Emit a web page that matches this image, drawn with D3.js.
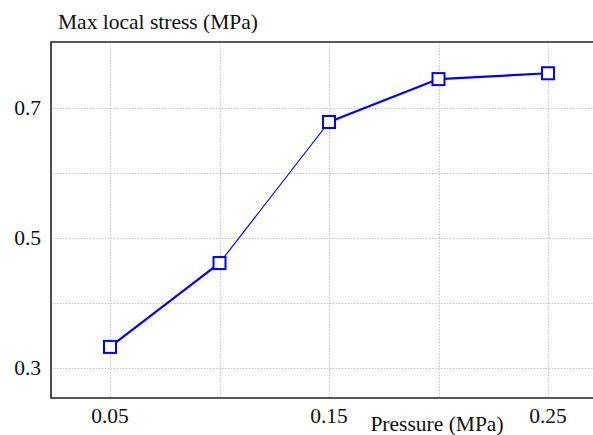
<!DOCTYPE html>
<html>
<head>
<meta charset="utf-8">
<script src="https://cdn.jsdelivr.net/npm/d3@7"></script>
<style>
  body { margin: 0; background: #fff; }
  svg { display: block; font-family: "Liberation Serif", "DejaVu Serif", serif; }
  .tick-label { font-size: 21.5px; fill: #111; }
  .axis-title { font-size: 21.5px; fill: #111; }
  .grid line { stroke: #c8c8c8; stroke-width: 1; stroke-dasharray: 1.5,1.5; }
</style>
</head>
<body>
<div id="chart"></div>
<script>
const pressure = [0.05, 0.10, 0.15, 0.20, 0.25];
const stress = [0.332, 0.461, 0.678, 0.744, 0.753];
const xTickLabels = [0.05, 0.15, 0.25];
const xGridValues = [0.05, 0.10, 0.15, 0.20, 0.25];
const yTickLabels = [0.3, 0.5, 0.7];
const yGridValues = [0.3, 0.4, 0.5, 0.6, 0.7];
const segmentWidths = [2.2, 1.2, 2.2, 2.2];

const W = 593, H = 435;
const plot = { left: 51, top: 42, right: 600, bottom: 398 };

const svg = d3.select("#chart").append("svg")
  .attr("width", W)
  .attr("height", H);

const x = d3.scaleLinear()
  .domain([0.05, 0.25])
  .range([110, 548]);

const y = d3.scaleLinear()
  .domain([0.3, 0.7])
  .range([367.7, 107.7]);

// grid
const grid = svg.append("g").attr("class", "grid");
grid.selectAll(".vg").data(xGridValues).enter().append("line")
  .attr("x1", d => Math.round(x(d)) + 0.5)
  .attr("x2", d => Math.round(x(d)) + 0.5)
  .attr("y1", plot.top)
  .attr("y2", plot.bottom);
grid.selectAll(".hg").data(yGridValues).enter().append("line")
  .attr("y1", d => Math.round(y(d)) + 0.5)
  .attr("y2", d => Math.round(y(d)) + 0.5)
  .attr("x1", plot.left)
  .attr("x2", plot.right);

// frame (top, left, bottom)
svg.append("path")
  .attr("d", `M${plot.right},${plot.top}H${plot.left}V${plot.bottom}H${plot.right}`)
  .attr("fill", "none")
  .attr("stroke", "#222")
  .attr("stroke-width", 1.6);

// tick labels
svg.selectAll(".xl").data(xTickLabels).enter().append("text")
  .attr("class", "tick-label")
  .attr("x", d => x(d))
  .attr("y", 423)
  .attr("text-anchor", "middle")
  .text(d => d.toFixed(2));

svg.selectAll(".yl").data(yTickLabels).enter().append("text")
  .attr("class", "tick-label")
  .attr("x", 41)
  .attr("y", d => y(d) + 7.5)
  .attr("text-anchor", "end")
  .text(d => d.toFixed(1));

// axis titles
svg.append("text")
  .attr("class", "axis-title")
  .attr("x", 58)
  .attr("y", 29)
  .text("Max local stress (MPa)");

svg.append("text")
  .attr("class", "axis-title")
  .attr("x", 437)
  .attr("y", 431)
  .attr("text-anchor", "middle")
  .text("Pressure (MPa)");

// line, drawn per segment
const pts = pressure.map((p, i) => [x(p), y(stress[i])]);
svg.selectAll(".seg").data(d3.pairs(pts)).enter().append("line")
  .attr("x1", d => d[0][0]).attr("y1", d => d[0][1])
  .attr("x2", d => d[1][0]).attr("y2", d => d[1][1])
  .attr("stroke", "#0000ff")
  .attr("stroke-width", (d, i) => segmentWidths[i]);

// square markers
svg.selectAll(".mk").data(pts).enter().append("rect")
  .attr("x", d => d[0] - 6)
  .attr("y", d => d[1] - 6)
  .attr("width", 12)
  .attr("height", 12)
  .attr("fill", "#fff")
  .attr("stroke", "#0000ff")
  .attr("stroke-width", 2);
</script>
</body>
</html>
